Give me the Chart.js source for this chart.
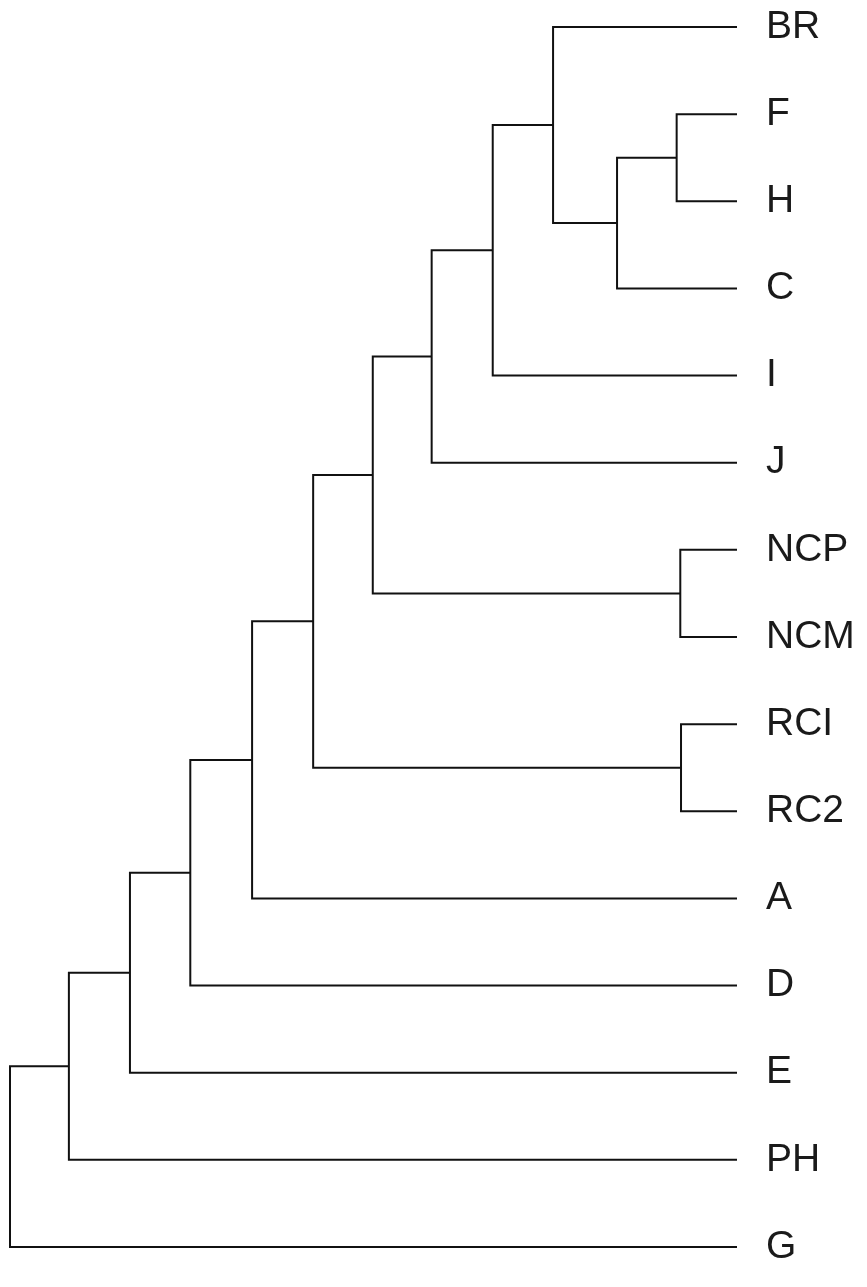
<!DOCTYPE html>
<html>
<head>
<meta charset="utf-8">
<script src="https://cdn.jsdelivr.net/npm/chart.js@4/dist/chart.umd.min.js"></script>
<style>
  html, body { margin: 0; padding: 0; background: #fff; }
  #wrap { width: 867px; height: 1287px; position: relative; }
</style>
</head>
<body>
<div id="wrap"><canvas id="tree"></canvas></div>
<script>
// leaves, top to bottom
const leafLabels = ['BR', 'F', 'H', 'C', 'I', 'J', 'NCP', 'NCM', 'RCI', 'RC2', 'A', 'D', 'E', 'PH', 'G'];

// merges: ids 0..14 are leaves, merge k creates cluster id 15 + k
const mergeLeft   = [1, 15, 0, 17, 18, 6, 19, 8, 21, 23, 24, 25, 26, 27];
const mergeRight  = [2, 3, 16, 4, 5, 7, 20, 9, 22, 10, 11, 12, 13, 14];
const mergeHeight = [8.3, 16.5, 25.3, 33.6, 42.0, 7.8, 50.1, 7.7, 58.3, 66.7, 75.2, 83.5, 91.9, 100];

document.addEventListener('DOMContentLoaded', () => {
    const ctx = document.getElementById('tree').getContext('2d');
    const n = leafLabels.length;

    // position (row) and height of every node
    const nodeY = [];
    const nodeH = [];
    for (let i = 0; i < n; i++) {
        nodeY[i] = i;
        nodeH[i] = 0;
    }

    const datasets = [];
    mergeHeight.forEach((h, k) => {
        const a = mergeLeft[k];
        const b = mergeRight[k];
        const id = n + k;
        nodeY[id] = (nodeY[a] + nodeY[b]) / 2;
        nodeH[id] = h;
        datasets.push({
            data: [
                { x: nodeH[a], y: nodeY[a] },
                { x: h, y: nodeY[a] },
                { x: h, y: nodeY[b] },
                { x: nodeH[b], y: nodeY[b] }
            ],
            showLine: true,
            borderColor: '#111',
            borderWidth: 2,
            pointRadius: 0,
            tension: 0,
            fill: false,
            clip: false
        });
    });

    new Chart(ctx, {
        type: 'scatter',
        data: { datasets: datasets },
        options: {
            responsive: true,
            maintainAspectRatio: false,
            animation: false,
            layout: { padding: { left: 10, top: 27, bottom: 40, right: 0 } },
            plugins: {
                legend: { display: false },
                tooltip: { enabled: false }
            },
            scales: {
                x: {
                    type: 'linear',
                    reverse: true,
                    min: 0,
                    max: 100,
                    display: false
                },
                y: {
                    type: 'linear',
                    position: 'right',
                    reverse: true,
                    min: 0,
                    max: n - 1,
                    grid: { display: false, drawTicks: false },
                    border: { display: false },
                    afterFit: (scale) => {
                        scale.width = 130;
                        scale.paddingTop = 0;
                        scale.paddingBottom = 0;
                    },
                    ticks: {
                        stepSize: 1,
                        padding: 29,
                        color: '#1a1a1a',
                        font: { family: 'Liberation Sans', size: 39 },
                        callback: (v) => leafLabels[v] ?? ''
                    }
                }
            }
        }
    });
});
</script>
</body>
</html>
